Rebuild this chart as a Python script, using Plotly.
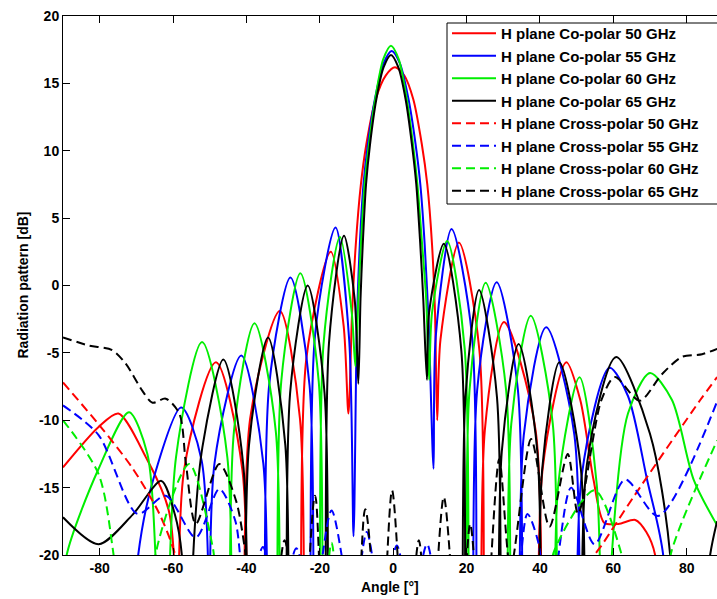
import plotly.graph_objects as go

# ---------------- data (angle in degrees, level in dB) ----------------
red_co_ang = [-90, -80.3, -74.9, -67.5, -61, -58.2, -57, -48.3, -41.1, -40.1, -39, -30.9, -25.4, -24.6,
              -23.7, -17, -13.5, -12.2, -11.2, -10.2, -8.8, -7.3, -4.8, -2, 0.5, 3, 5.5, 7.8, 9.3, 10.6, 11.4, 12,
              12.9, 17.9, 23.5, 24.3, 25, 30.2, 38.8, 39.8, 40.7, 47.2, 51, 54.6, 57.5, 61.4, 66, 69, 71.4, 73, 88.3]
red_co_db = [-13.5, -10.5, -9.5, -12.7, -16.9, -45, -13.7, -5.7, -13.7, -45, -9.9, -1.9, -9.9, -45,
             -5.5, 2.5, -3, -9.5, -2, 3, 7.5, 10.5, 13.8, 15.6, 16.2, 15.6, 13.8, 10.5, 7.5, 3, -2, -10,
             -4, 3.2, -4.8, -45, -10.7, -2.7, -10.7, -45, -13.7, -5.7, -8.5, -14.4, -17.6, -17.7, -17.4, -18.3, -20, -30, -40]

blue_co_ang = [-90, -72, -69.5, -65.4, -57.8, -52.2, -49.7, -48.7, -41.4, -35.4, -34.6, -33.8, -28, -22.8, -22.1,
               -21.3, -15.7, -12, -10.8, -9.9, -9.1, -8.1, -6.9, -5, -2.6, -0.4, 1.8, 4.2, 6.1, 7.4, 8.6, 9.7, 11,
               11.6, 15.9, 21.5, 22.2, 22.9, 28.2, 34, 34.8, 35.6, 41.7, 49.4, 50.4, 51.4, 59, 64, 69.2, 73.6, 76, 88.3]
blue_co_db = [-40, -32, -20, -14.4, -9.05, -13, -45, -13.2, -5.2, -13.2, -45, -7.4, 0.6, -7.4, -45,
              -3.7, 4.3, -4, -18.6, -3, 3, 7.5, 10.5, 13.8, 16.5, 17.4, 16.5, 13.8, 10.5, 7.5, 3, -3, -13.6,
              -3.8, 4.2, -3.8, -45, -7.75, 0.25, -7.75, -45, -11.1, -3.1, -11.1, -45, -14.1, -6.1, -8.2, -14.4, -20, -40, -45]

green_co_ang = [-90, -89, -80.3, -72, -67, -64.8, -63, -59.2, -52.1, -45.2, -44.4, -43.4, -37.8, -32, -31.2,
                -30.5, -25.3, -20.3, -19.6, -19, -14.5, -11.3, -10.3, -9.5, -8.8, -7.8, -6.6, -4.8, -2.7, -0.6,
                1.5, 3.6, 5.4, 6.6, 7.9, 9, 9.8,
                10.6, 14.7, 19.5, 20.2, 20.8, 25.2, 30.8, 31.5, 32.2, 37.5, 43.5, 44.3, 45, 50.8, 55.5, 57.7,
                59.6, 64, 70, 76, 81.9, 88.3]
green_co_db = [-24, -20, -13.6, -9.4, -12.5, -20, -45, -12.75, -4.2, -12.75, -45, -10.8, -2.8, -10.8, -45,
               -7.1, 0.9, -7.1, -45, -4.4, 3.6, -2, -6, -1, 3, 7.5, 10.5, 14, 16.8, 17.8,
               16.8, 14, 10.5, 7.5, 3, -1, -7,
               -2, 3.3, -4.7, -45, -7.8, 0.2, -7.8, -45, -10.25, -2.25, -10.25, -45, -14.8, -6.8, -14.8, -45,
               -20, -9.5, -6.5, -8.5, -14.4, -17.8]

black_co_ang = [-90, -80.3, -71, -63.2, -59.5, -57.6, -56, -54.5, -52, -46.3, -40.8, -40.1, -39.3, -34.1, -29.4, -28.7,
                -28.1, -23.3, -18.7, -18.1, -17.5, -13.4, -10.5, -9.5, -8.9, -8.3, -7.4, -6.3, -4.6, -2.6, -0.6,
                1.4, 3.4, 5.1, 6.3, 7.4, 8.2, 9.2,
                9.8, 13.8, 18.6, 19.2, 19.7, 23.4, 28.3, 29, 29.6, 34.2, 39.3, 40, 40.6, 45.3, 51.2, 52,
                52.8, 60.8, 70, 75.5, 77, 86.4, 88.3]
black_co_db = [-17.2, -19.2, -17, -14.5, -17, -20, -45, -20, -12, -5.5, -13.5, -45, -11.85, -3.85, -11.85, -45,
               -8, 0, -8, -45, -4.3, 3.7, -1, -7.3, -1, 3, 7.5, 10.5, 13.8, 16.2, 17.1,
               16.2, 13.8, 10.5, 7.5, 3, -1, -7,
               -2, 3.1, -4.9, -45, -8.3, -0.33, -8.3, -45, -12.35, -4.35, -12.35, -45, -13.7, -5.7, -13.7, -45,
               -13.3, -5.3, -11, -20, -45, -20, -17.5]

red_x_ang = [-90, -80.3, -71.2, -63.8, -59.2, -56, -40, 0, 40, 52, 54, 57.3, 65.5, 83.7, 88.3]
red_x_db = [-7.2, -10.3, -13.5, -16.9, -20.2, -26, -35, -35, -35, -26, -20.5, -19.1, -15.7, -8.5, -6.8]

blue_x_ang = [-90, -80.3, -69.7, -62, -53.8, -47.4, -43, -40, -35.5, -31, -26.4, -22, -16.8, -11, -7.2, -3, 1,
              5, 9.2, 13, 25, 33, 36.6, 39.5, 42, 44, 48.5, 54.9, 63.2, 72.2, 88.3]
blue_x_db = [-8.9, -11.1, -16.95, -15.6, -18.7, -15.1, -17.5, -24, -19.4, -24, -19.5, -24, -16.7, -24, -18.3, -24, -19.3,
             -24, -19.2, -24, -30, -24, -16.95, -19, -24, -22, -15, -19.2, -14.4, -17.1, -8.6]

green_x_ang = [-90, -80.3, -76.1, -72, -66, -64.8, -55.6, -49.2, -46, -25, -19, -16.8, -14, 0, 40,
               43.9, 54.9, 62.2, 66, 72, 75.9, 88.3]
green_x_db = [-10, -14, -20.2, -30, -30, -20, -13.25, -19.4, -26, -30, -24, -19.1, -24, -30, -26,
              -19.7, -15.2, -19.9, -26, -26, -19.7, -11.5]

black_x_ang = [-90, -83, -76.6, -72.9, -68.4, -65.6, -62, -58.3, -56.5, -53.8, -47.4, -42.8, -39, -34, -29.6, -25,
               -21.3, -17, -12, -7.6, -3.5, -0.3, 3.5, 7, 10, 13.8, 18, 21, 24.5, 28.9, 32, 37.6, 42.6, 47.6,
               50.4, 56.7, 60.4, 67.2, 73.2, 78.7, 84.2, 88.3]
black_x_db = [-3.85, -4.45, -4.8, -5.8, -7.8, -8.7, -8.4, -9.5, -13.2, -17.7, -13.25, -16, -22, -28, -18.9, -28,
              -15.6, -28, -28, -16.6, -28, -15.2, -28, -18.9, -28, -15.7, -28, -17.7, -28, -12.9, -21, -11.4, -17.9, -12.5,
              -16.95, -8.55, -6.8, -8.55, -6.6, -5.3, -5.1, -4.7]

x_ticks = [-80, -60, -40, -20, 0, 20, 40, 60, 80]
y_ticks = [-20, -15, -10, -5, 0, 5, 10, 15, 20]

RED, BLUE, GREEN, BLACK = "#ff0000", "#0000ff", "#00ee00", "#000000"

series = [
    ("H plane Co-polar 50 GHz", red_co_ang, red_co_db, RED, "solid"),
    ("H plane Co-polar 55 GHz", blue_co_ang, blue_co_db, BLUE, "solid"),
    ("H plane Co-polar 60 GHz", green_co_ang, green_co_db, GREEN, "solid"),
    ("H plane Co-polar 65 GHz", black_co_ang, black_co_db, BLACK, "solid"),
    ("H plane Cross-polar 50 GHz", red_x_ang, red_x_db, RED, "9px,5px"),
    ("H plane Cross-polar 55 GHz", blue_x_ang, blue_x_db, BLUE, "9px,5px"),
    ("H plane Cross-polar 60 GHz", green_x_ang, green_x_db, GREEN, "9px,5px"),
    ("H plane Cross-polar 65 GHz", black_x_ang, black_x_db, BLACK, "9px,5px"),
]

fig = go.Figure()
for name, xs, ys, col, dash in series:
    fig.add_trace(go.Scatter(x=xs, y=ys, name=name, mode="lines",
                             line=dict(color=col, width=2, dash=dash, shape="spline", smoothing=0.8)))

FONT = "Liberation Sans, Arial, sans-serif"
PW, PH = 654, 539  # plot area size in px (left 63, top 16)
fig.update_layout(
    width=717, height=599,
    margin=dict(l=63, r=0, t=16, b=44, autoexpand=False),
    paper_bgcolor="white", plot_bgcolor="white",
    font=dict(family=FONT, size=14, color="black", weight="bold"),
    showlegend=True,
    legend=dict(x=(447 - 63) / PW, y=(555 - 17) / PH, xanchor="left", yanchor="top",
                bgcolor="rgba(0,0,0,0)", borderwidth=0, itemwidth=44,
                font=dict(family=FONT, size=15, color="black", weight="bold"),
                tracegroupgap=0),
    shapes=[dict(type="rect", xref="paper", yref="paper", layer="above",
                 x0=(447 - 63) / PW, x1=(730 - 63) / PW, y0=(555 - 204) / PH, y1=(555 - 23) / PH,
                 line=dict(color="black", width=1), fillcolor="white")],
    xaxis=dict(range=[-90, 88.27], tickvals=x_ticks, ticktext=[str(v) for v in x_ticks],
               ticks="inside", ticklen=7, tickcolor="black", showline=True, linecolor="black",
               linewidth=1, mirror="ticks", showgrid=False, zeroline=False, automargin=False,
               tickfont=dict(family=FONT, size=14, weight="bold")),
    yaxis=dict(range=[-20, 20], tickvals=y_ticks, ticktext=[str(v) for v in y_ticks],
               ticks="inside", ticklen=7, tickcolor="black", showline=True, linecolor="black",
               linewidth=1, mirror=False, showgrid=False, zeroline=False, automargin=False,
               tickfont=dict(family=FONT, size=14, weight="bold")),
    annotations=[
        dict(text="Angle [°]", xref="paper", yref="paper", x=0.5, y=-32 / PH,
             xanchor="center", yanchor="middle", showarrow=False,
             font=dict(family=FONT, size=14, weight="bold")),
        dict(text="Radiation pattern [dB]", xref="paper", yref="paper", x=(22 - 63) / PW, y=0.5,
             xanchor="center", yanchor="middle", showarrow=False, textangle=-90,
             font=dict(family=FONT, size=14, weight="bold")),
    ],
)
fig.write_html("out.html", config={"displayModeBar": False},
               post_script="document.body.style.margin='0';")
